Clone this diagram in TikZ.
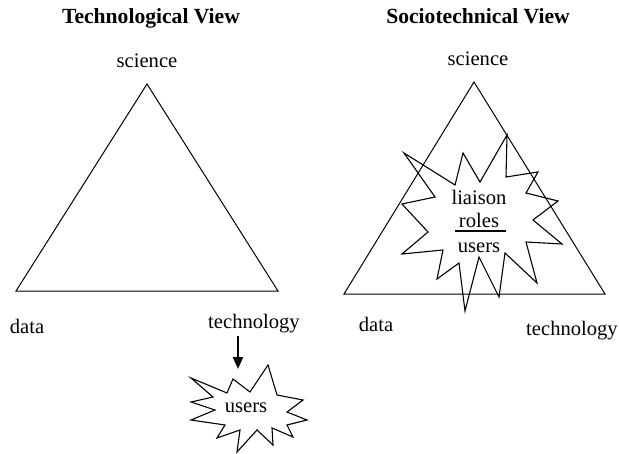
\documentclass[tikz,border=0pt]{standalone}
\usepackage{fontspec}
\setmainfont{Liberation Serif}
\usetikzlibrary{arrows.meta}
\tikzset{
  lbl/.style={anchor=base, inner sep=0pt, font=\fontsize{20.6bp}{24bp}\selectfont},
  ttl/.style={lbl, font=\fontsize{21.6bp}{25bp}\selectfont\bfseries},
  edge/.style={line width=1bp, line join=miter},
  burst/.style={line width=1.1bp, line join=miter, fill=white},
  pointer/.style={line width=2.2bp, -{Triangle[length=12bp,width=10bp]}}
}
\begin{document}
\begin{tikzpicture}[x=1bp,y=-1bp]
\useasboundingbox (0,0) rectangle (619,454);
% titles
\node[ttl] (t1) at (151,24) {Technological View};
\node[ttl] (t2) at (478,24) {Sociotechnical View};
% left triangle
\coordinate (La) at (147,84);
\coordinate (Lb) at (16,291);
\coordinate (Lc) at (278,291);
\draw[edge] (La) -- (Lb) -- (Lc) -- cycle;
\node[lbl] (sciL) at (147,68) {science};
\node[lbl] (dataL) at (27,333) {data};
\node[lbl] (techL) at (254,328) {technology};
% arrow
\coordinate (ar1) at (238,336);
\coordinate (ar2) at (238,369);
\draw[pointer] (ar1) -- (ar2);
% small burst
\draw[burst] (191,378) -- (227,393) -- (233,379) -- (250,392) -- (268,365) -- (277,395)
  -- (303,400) -- (287,412) -- (307,420) -- (287,425) -- (293,437) -- (272,428)
  -- (273,445) -- (257,430) -- (237,452) -- (240,430) -- (217,438) -- (225,425)
  -- (191,420) -- (215,410) -- (191,402) -- (213,397) -- cycle;
\node[lbl] (usersS) at (246,412) {users};
% right triangle
\coordinate (Ra) at (474,82);
\coordinate (Rb) at (344,294);
\coordinate (Rc) at (605,294);
\draw[edge] (Ra) -- (Rb) -- (Rc) -- cycle;
\node[lbl] (sciR) at (478,66) {science};
\node[lbl] (dataR) at (376,331) {data};
\node[lbl] (techR) at (572,335) {technology};
% big burst
\draw[burst, fill=none] (404,153) -- (455,185) -- (463,153) -- (480,182) -- (507,135)
  -- (506,177) -- (538,172) -- (526,193) -- (558,201) -- (533,220) -- (562,244)
  -- (526,242) -- (537,283) -- (505,253) -- (499,297) -- (479,257) -- (465,311)
  -- (459,263) -- (437,279) -- (443,250) -- (402,254) -- (428,232) -- (402,204)
  -- (435,197) -- cycle;
\node[lbl] (liaison) at (479,205) {liaison};
\node[lbl] (roles) at (479,228) {roles};
\node[lbl] (usersB) at (479,253) {users};
\coordinate (ul1) at (455,231);
\coordinate (ul2) at (506,231);
\draw[line width=2bp] (ul1) -- (ul2);
\end{tikzpicture}
\end{document}
